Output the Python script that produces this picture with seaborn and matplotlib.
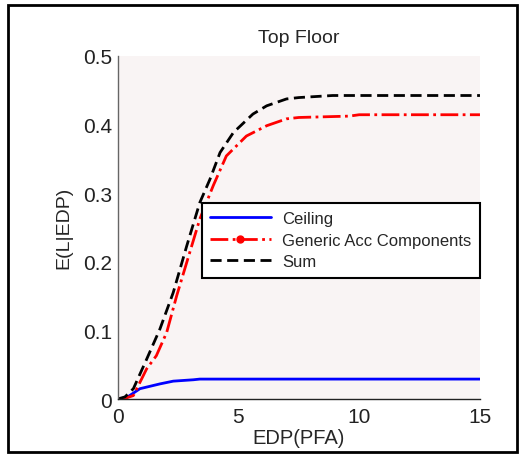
import numpy as np
import pandas as pd
import matplotlib
matplotlib.use("Agg")
import matplotlib.pyplot as plt
import seaborn as sns
from matplotlib.lines import Line2D
from matplotlib.patches import Rectangle

# Values
sum_x = [0, 0.3, 0.65, 1.2, 1.75, 2.3, 2.86, 3.4, 3.82, 4.24, 4.79, 5.6, 6.17, 6.99, 7.5, 8.9, 15]
sum_y = [0, 0.003, 0.015, 0.058, 0.102, 0.155, 0.223, 0.286, 0.32, 0.359, 0.388, 0.415, 0.427, 0.437, 0.439, 0.442, 0.442]

acc_x = [0, 0.3, 0.65, 1.2, 1.6, 2.03, 2.44, 2.86, 3.4, 3.96, 4.5, 5.33, 6.17, 6.99, 7.5, 9.6, 10, 15]
acc_y = [0, 0.001, 0.005, 0.044, 0.063, 0.097, 0.15, 0.199, 0.262, 0.311, 0.354, 0.383, 0.398, 0.408, 0.41, 0.412, 0.414, 0.414]

ceil_x = [0, 0.37, 0.92, 1.75, 2.3, 3.13, 3.4, 15]
ceil_y = [0, 0.002, 0.015, 0.022, 0.026, 0.028, 0.029, 0.029]

sns.set_style("white")
plt.rcParams['font.family'] = ['Liberation Sans', 'DejaVu Sans']

fig = plt.figure(figsize=(5.2, 4.56), dpi=100)
ax = fig.add_axes([0.2263, 0.1228, 0.6967, 0.7529])
ax.set_facecolor("#f9f4f4")

ceil_df = pd.DataFrame({"x": ceil_x, "y": ceil_y})
acc_df = pd.DataFrame({"x": acc_x, "y": acc_y})
sum_df = pd.DataFrame({"x": sum_x, "y": sum_y})

dash = (0, (4, 2))
sns.lineplot(data=ceil_df, x="x", y="y", ax=ax, color="#0000ff", lw=2)
sns.lineplot(data=acc_df, x="x", y="y", ax=ax, color="#ff0000", lw=2, linestyle="-.")
sns.lineplot(data=sum_df, x="x", y="y", ax=ax, color="black", lw=2, linestyle=dash)

ax.set_xlim(0, 15)
ax.set_ylim(0, 0.5)
ax.set_xticks([0, 5, 10, 15])
ax.set_xticklabels(["0", "5", "10", "15"])
ax.set_yticks([0, 0.1, 0.2, 0.3, 0.4, 0.5])
ax.set_yticklabels(["0", "0.1", "0.2", "0.3", "0.4", "0.5"])
ax.tick_params(direction="in", length=3, labelsize=15, colors="#222222", pad=4)
ax.tick_params(axis="x", pad=6)
ax.set_xlabel("EDP(PFA)", fontsize=14.5, labelpad=1)
ax.set_ylabel("E(L|EDP)", fontsize=14, labelpad=8)
ax.set_title("Top Floor", fontsize=14, pad=10)

for s in ["top", "right"]:
    ax.spines[s].set_visible(False)
ax.spines["left"].set_color("#666666")
ax.spines["bottom"].set_color("#222222")
ax.spines["left"].set_linewidth(1)
ax.spines["bottom"].set_linewidth(1)

handles = [
    Line2D([], [], color="#0000ff", lw=2),
    Line2D([], [], color="#ff0000", lw=2, linestyle="-.", marker="o", markersize=5, markevery=[1]),
    Line2D([], [], color="black", lw=2, linestyle=dash),
]
leg = ax.legend(handles, ["Ceiling", "Generic Acc Components", "Sum"],
                loc="upper right", bbox_to_anchor=(1.0, 0.572), fontsize=12,
                frameon=True, fancybox=False, framealpha=1, edgecolor="black",
                handlelength=3.65, borderpad=0.5, labelspacing=0.4, borderaxespad=0,
                handletextpad=0.7)
leg.get_frame().set_linewidth(1.5)

fig.patches.append(Rectangle((8 / 520, 3 / 456), 509 / 520, 447 / 456, transform=fig.transFigure,
                             fill=False, edgecolor="black", lw=2))

fig.savefig("out.png", dpi=100)
